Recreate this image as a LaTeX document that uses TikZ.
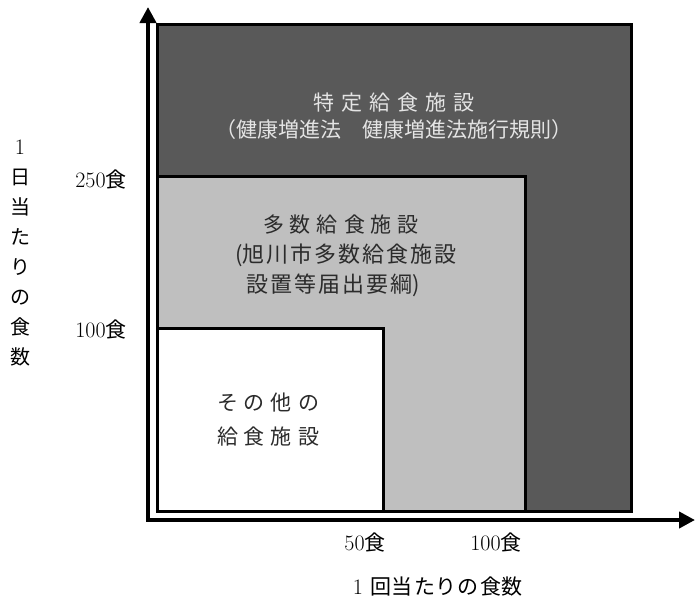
\documentclass[tikz,border=0pt]{standalone}
\usepackage{fontspec}
\newfontfamily\jp{Noto Sans CJK JP}
\usetikzlibrary{arrows.meta}
\definecolor{darkfill}{HTML}{595959}
\definecolor{lightfill}{HTML}{BFBFBF}
\definecolor{toptext}{HTML}{E4E4E4}
\definecolor{boxtext}{HTML}{2B2B2B}
\newcommand\gp[1]{\hspace{#1pt}}
\begin{document}
\begin{tikzpicture}[x=1pt,y=-1pt,
  box/.style={draw=black,line width=3pt},
  axisline/.style={line width=4.5pt,line join=miter,{Triangle[width=16pt,length=16pt]}-{Triangle[width=16pt,length=16pt]}},
  lbl/.style={inner sep=0pt,font=\jp\fontsize{21}{21}\selectfont},
  tick/.style={inner sep=0pt,font=\fontsize{22}{22}\selectfont,text=black}]
\useasboundingbox (0,0) rectangle (695,603);
\fill[white] (0,0) rectangle (695,603);
% regions
\draw[box,fill=darkfill] (157,24) rectangle (631,511);
\draw[box,fill=lightfill] (157,176) rectangle (525,511);
\draw[box,fill=white] (157,328) rectangle (383,511);
% axes
\coordinate (ytop) at (148,7);
\coordinate (o) at (148,520);
\coordinate (xend) at (695,520);
\draw[axisline] (ytop) -- (o) -- (xend);
% region labels
\node[lbl,text=toptext] (t1) at (394,103) {特\gp{7}定\gp{7}給\gp{7}食\gp{7}施\gp{7}設};
\node[lbl,text=toptext] (t2) at (394,130) {（健康増進法　健康増進法施行規則）};
\node[lbl,text=boxtext] (m1) at (341,225) {多\gp{6}数\gp{6}給\gp{6}食\gp{6}施\gp{6}設};
\node[lbl,text=boxtext,font=\jp\fontsize{22}{22}\selectfont] (m2) at (345,255) {\makebox[9pt][r]{(}旭\gp{2}川\gp{2}市\gp{2}多\gp{2}数\gp{2}給\gp{2}食\gp{2}施\gp{2}設};
\node[lbl,text=boxtext,font=\jp\fontsize{22}{22}\selectfont] (m3) at (334,285) {設\gp{2}置\gp{2}等\gp{2}届\gp{2}出\gp{2}要\gp{2}綱\makebox[9pt][l]{)}};
\node[lbl,text=boxtext] (s1) at (268,403) {そ\gp{6}の\gp{6}他\gp{6}の};
\node[lbl,text=boxtext] (s2) at (268,437) {給\gp{6}食\gp{6}施\gp{6}設};
% axis ticks
\node[tick] (y250) at (101,180) {250{\jp\fontsize{21}{21}\selectfont 食}};
\node[tick] (y100) at (101,330) {100{\jp\fontsize{21}{21}\selectfont 食}};
\node[tick] (x50) at (365,542) {50{\jp\fontsize{21}{21}\selectfont 食}};
\node[tick] (x100) at (496,542) {100{\jp\fontsize{21}{21}\selectfont 食}};
% axis titles
\node[inner sep=0pt,align=center,font=\jp\fontsize{20}{30}\selectfont] (ytitle) at (20,253)
  {{\fontspec{Latin Modern Roman}\fontsize{22}{30}\selectfont 1}\\日\\当\\た\\り\\の\\食\\数};
\node[inner sep=0pt,font=\jp\fontsize{21}{21}\selectfont] (xtitle) at (435,587)
  {\makebox[22pt]{\fontspec{Latin Modern Roman}\fontsize{22}{22}\selectfont 1}\gp{1}回\gp{1}当\gp{1}た\gp{1}り\gp{1}の\gp{1}食\gp{1}数};
\end{tikzpicture}
\end{document}
